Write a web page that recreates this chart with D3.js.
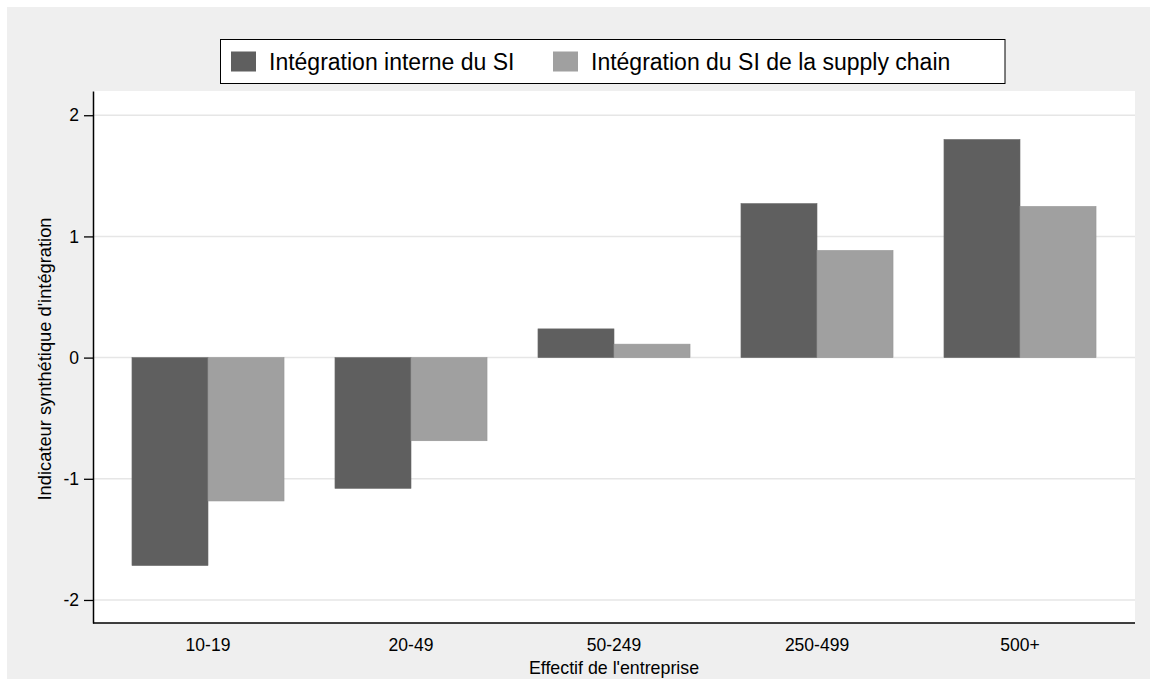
<!DOCTYPE html>
<html>
<head>
<meta charset="utf-8">
<script src="https://cdn.jsdelivr.net/npm/d3@7"></script>
<style>
  html, body { margin: 0; padding: 0; background: #ffffff; }
  svg { display: block; }
  text { font-family: "Liberation Sans", Arial, Helvetica, sans-serif; fill: #000; }
</style>
</head>
<body>
<svg id="chart" width="1150" height="679"></svg>
<script>
// ---- data ----
const categories = ["10-19", "20-49", "50-249", "250-499", "500+"];
const seriesNames = ["Intégration interne du SI", "Intégration du SI de la supply chain"];
const interne = [-1.716, -1.079, 0.237, 1.271, 1.80];
const supplyChain = [-1.183, -0.686, 0.111, 0.884, 1.247];
const yTicks = [-2, -1, 0, 1, 2];
const yTitle = "Indicateur synthétique d'intégration";
const xTitle = "Effectif de l'entreprise";

// ---- layout ----
const W = 1150, H = 679;
const plot = { left: 93, right: 1135, top: 91, bottom: 623 };
const colors = ["#5f5f5f", "#a0a0a0"];

const svg = d3.select("#chart");

// outer grey panel
svg.append("rect").attr("x", 7).attr("y", 7).attr("width", W - 7).attr("height", H - 7).attr("fill", "#efefef");
// plot region
svg.append("rect").attr("x", plot.left).attr("y", plot.top)
  .attr("width", plot.right - plot.left).attr("height", plot.bottom - plot.top).attr("fill", "#ffffff");

const x0 = d3.scaleBand().domain(categories).range([plot.left, plot.right])
  .paddingInner(0.251).paddingOuter(0.192);
const x1 = d3.scaleBand().domain([0, 1]).range([0, x0.bandwidth()]).padding(0);
const y = d3.scaleLinear().domain([-2.19, 2.2]).range([plot.bottom, plot.top]);

// gridlines
svg.append("g").selectAll("line").data(yTicks).join("line")
  .attr("x1", plot.left).attr("x2", plot.right)
  .attr("y1", d => y(d)).attr("y2", d => y(d))
  .attr("stroke", "#e6e6e6").attr("stroke-width", 1.5);

// bars
const rows = categories.map((c, i) => ({ cat: c, vals: [interne[i], supplyChain[i]] }));
const g = svg.append("g").selectAll("g").data(rows).join("g")
  .attr("transform", d => `translate(${x0(d.cat)},0)`);
g.selectAll("rect").data(d => d.vals.map((v, k) => ({ v, k }))).join("rect")
  .attr("x", d => x1(d.k))
  .attr("width", x1.bandwidth())
  .attr("y", d => y(Math.max(0, d.v)))
  .attr("height", d => Math.abs(y(d.v) - y(0)))
  .attr("fill", d => colors[d.k])
  .attr("stroke", d => d.k === 0 ? "#6a6a6a" : "#959595")
  .attr("stroke-width", 0.6);

// y axis
const yAxis = svg.append("g").attr("transform", `translate(${plot.left},0)`)
  .call(d3.axisLeft(y).tickValues(yTicks).tickSize(9).tickSizeOuter(0).tickPadding(5).tickFormat(d3.format("d")));
yAxis.select(".domain").attr("stroke", "#000").attr("stroke-width", 1.5);
yAxis.selectAll(".tick line").attr("stroke", "#000").attr("stroke-width", 1.3);
yAxis.selectAll(".tick text").style("font-size", "17.5px")
  .style("font-family", "'Liberation Sans', Arial, sans-serif").attr("fill", "#000")
  .text(d => d < 0 ? "-" + Math.abs(d) : d);

// x axis
const xAxis = svg.append("g").attr("transform", `translate(0,${plot.bottom})`)
  .call(d3.axisBottom(x0).tickSize(0).tickSizeOuter(0).tickPadding(15.6));
xAxis.select(".domain").attr("stroke", "#000").attr("stroke-width", 1.5)
  .attr("d", `M${plot.left},0H${plot.right}`);
xAxis.selectAll(".tick text").style("font-size", "17.5px")
  .style("font-family", "'Liberation Sans', Arial, sans-serif").attr("fill", "#000");

// axis titles
svg.append("text").attr("x", (plot.left + plot.right) / 2).attr("y", 674)
  .attr("text-anchor", "middle").style("font-size", "17.8px").text(xTitle);
svg.append("text").attr("transform", `translate(51,${359}) rotate(-90)`)
  .attr("text-anchor", "middle").style("font-size", "18.3px").text(yTitle);

// legend
const legend = svg.append("g");
legend.append("rect").attr("x", 220.5).attr("y", 39.5).attr("width", 784.5).attr("height", 44)
  .attr("fill", "#fff").attr("stroke", "#000").attr("stroke-width", 1);
const legX = [231, 553];
seriesNames.forEach((name, k) => {
  legend.append("rect").attr("x", legX[k]).attr("y", 51.5).attr("width", 25).attr("height", 20)
    .attr("fill", colors[k]);
  legend.append("text").attr("x", legX[k] + 38).attr("y", 69.5)
    .style("font-size", "23px").text(name);
});
</script>
</body>
</html>
